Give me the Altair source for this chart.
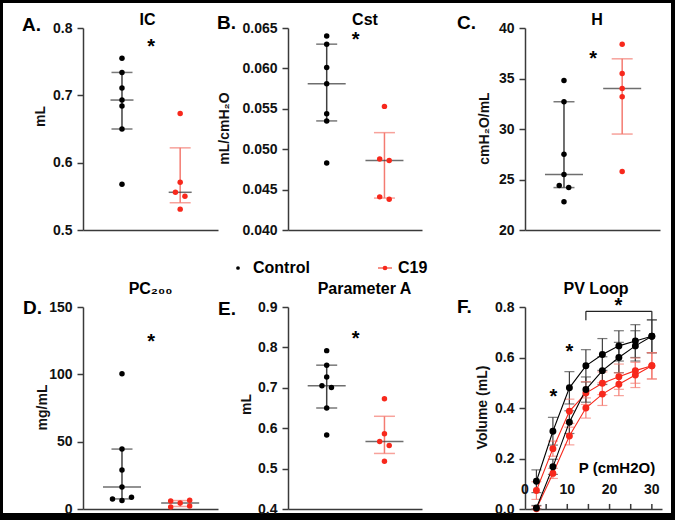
import altair as alt
import pandas as pd

FONT = "Liberation Sans"
GROUPS = ["Control", "C19"]
POINT_COLORS = ["#000000", "#f7281c"]
BAR_COLORS = ["#404040", "#f47b71"]
MEDIAN_COLOR = "#303030"

# A. IC (mL)
ic_control = [0.755, 0.734, 0.711, 0.693, 0.684, 0.650, 0.568]
ic_c19 = [0.673, 0.571, 0.556, 0.550, 0.531]
ic_ticks = [0.5, 0.6, 0.7, 0.8]
# B. Cst (mL/cmH2O)
cst_control = [0.0640, 0.0630, 0.0601, 0.0581, 0.0544, 0.0535, 0.0483]
cst_c19 = [0.0553, 0.0488, 0.0486, 0.0441, 0.0438]
cst_ticks = [0.040, 0.045, 0.050, 0.055, 0.060, 0.065]
# C. H (cmH2O/mL)
h_control = [34.8, 32.7, 27.5, 25.5, 24.4, 24.2, 22.8]
h_c19 = [38.4, 35.5, 34.0, 33.2, 25.8]
h_ticks = [20, 25, 30, 35, 40]
# D. PC200 (mg/mL)
pc_control = [100.5, 44.5, 28.9, 16.3, 8.8, 7.5, 6.3]
pc_c19 = [6.5, 6.0, 4.5, 2.3, 1.5]
pc_ticks = [0, 50, 100, 150]
# E. Parameter A (mL)
pa_control = [0.792, 0.756, 0.727, 0.705, 0.701, 0.650, 0.583]
pa_c19 = [0.673, 0.586, 0.567, 0.557, 0.518]
pa_ticks = [0.4, 0.5, 0.6, 0.7, 0.8, 0.9]
# F. PV loop
pv_pressure = [2.7, 6.6, 10.5, 14.4, 18.3, 22.2, 26.1, 30.0]
pv_ctrl_defl = [0.110, 0.308, 0.480, 0.567, 0.612, 0.646, 0.665, 0.684]
pv_ctrl_defl_sd = [0.045, 0.055, 0.064, 0.064, 0.063, 0.060, 0.065, 0.065]
pv_ctrl_infl = [0.004, 0.167, 0.344, 0.473, 0.548, 0.600, 0.646, 0.684]
pv_ctrl_infl_sd = [0.010, 0.030, 0.045, 0.050, 0.055, 0.060, 0.060, 0.065]
pv_c19_defl = [0.073, 0.239, 0.387, 0.459, 0.498, 0.524, 0.548, 0.567]
pv_c19_defl_sd = [0.035, 0.030, 0.048, 0.045, 0.045, 0.050, 0.050, 0.052]
pv_c19_infl = [0.001, 0.141, 0.289, 0.400, 0.455, 0.494, 0.531, 0.567]
pv_c19_infl_sd = [0.010, 0.020, 0.035, 0.040, 0.045, 0.045, 0.050, 0.052]
pv_y_ticks = [0.0, 0.2, 0.4, 0.6, 0.8]
pv_x_labels = [0, 10, 20, 30]
pv_x_ticks = [5, 10, 15, 20, 25, 30]

PH = 202
XMIN, XMAX = 0.33, 2.65
PT_SCALE = alt.Scale(domain=GROUPS, range=POINT_COLORS)
BAR_SCALE = alt.Scale(domain=GROUPS, range=BAR_COLORS)
XAXIS = alt.Axis(title=None, labels=False, ticks=False, grid=False, domain=True)


def gp_quantile(vals, p):
    s = sorted(vals)
    n = len(s)
    r = (n + 1) * p
    lo = int(r)
    frac = r - lo
    if lo < 1:
        return s[0]
    if lo >= n:
        return s[-1]
    return s[lo - 1] + frac * (s[lo] - s[lo - 1])


def dodge(vals, px_per_unit, thresh=5.0, step=9.5):
    order = sorted(range(len(vals)), key=lambda i: -vals[i])
    offs = [0.0] * len(vals)
    chains, cur = [], [order[0]]
    for i in order[1:]:
        if (vals[cur[-1]] - vals[i]) * px_per_unit < thresh:
            cur.append(i)
        else:
            chains.append(cur)
            cur = [i]
    chains.append(cur)
    for ch in chains:
        if len(ch) == 2:
            offs[ch[0]] = -0.5 * step
            offs[ch[1]] = 0.5 * step
        elif len(ch) > 2:
            for k in range(0, len(ch), 3):
                grp = ch[k:k + 3]
                pos = {1: [0], 2: [1, -1], 3: [1, -1, 0]}[len(grp)]
                for idx, p in zip(grp, pos):
                    offs[idx] = p * step
    return offs


def letter_layer(letter, lx, ly):
    return alt.Chart(pd.DataFrame({"l": [letter]})).mark_text(
        text=letter, align="left", baseline="middle", fontSize=19,
        fontWeight="bold", font=FONT, color="#000"
    ).encode(x=alt.value(lx), y=alt.value(ly))


def title_layer(title, tx, ty):
    return alt.Chart(pd.DataFrame({"t": [title]})).mark_text(
        text=title, align="center", baseline="alphabetic", fontSize=16,
        fontWeight="bold", font=FONT, color="#000"
    ).encode(x=alt.value(tx), y=alt.value(ty))


def dot_panel(title, ctrl, c19, dom, ticks, fmt, ytitle, ytx, yty,
              letter, lx, ly, star_y, tdx, tty, med_size, width, extra=None):
    px_y = PH / (dom[1] - dom[0])
    px_x = width / (XMAX - XMIN)
    xsc = alt.Scale(domain=[XMIN, XMAX], nice=False, zero=False)
    ysc = alt.Scale(domain=dom, nice=False, zero=False)
    yax = alt.Axis(title=ytitle, values=ticks, format=fmt, grid=False,
                   titleX=ytx, titleY=yty, titleBaseline="middle",
                   titleAlign="center", titleAngle=270)
    rows, stats = [], []
    for gi, (g, vals) in enumerate(zip(GROUPS, [ctrl, c19])):
        offs = dodge(vals, px_y)
        for v, o in zip(vals, offs):
            rows.append({"group": g, "value": v, "x": gi + 1 + o / px_x})
        stats.append({"group": g, "pos": gi + 1,
                      "median": gp_quantile(vals, 0.5),
                      "q1": gp_quantile(vals, 0.25),
                      "q3": gp_quantile(vals, 0.75)})
    pts = pd.DataFrame(rows)
    st = pd.DataFrame(stats)
    caps = st.melt(id_vars=["group", "pos"], value_vars=["q1", "q3"],
                   value_name="cap")

    bars = alt.Chart(st).mark_rule(strokeWidth=1.5).encode(
        x=alt.X("pos:Q", scale=xsc, axis=XAXIS),
        y=alt.Y("q1:Q", scale=ysc, axis=yax),
        y2="q3:Q",
        stroke=alt.Stroke("group:N", scale=BAR_SCALE, legend=None),
    )
    capl = alt.Chart(caps).mark_tick(orient="horizontal", size=21,
                                     thickness=1.5, filled=True).encode(
        x=alt.X("pos:Q", scale=xsc, axis=XAXIS),
        y=alt.Y("cap:Q", scale=ysc, axis=yax),
        fill=alt.Fill("group:N", scale=BAR_SCALE, legend=None),
    )
    med = alt.Chart(st).mark_tick(orient="horizontal", size=med_size,
                                  thickness=1.5, color=MEDIAN_COLOR).encode(
        x=alt.X("pos:Q", scale=xsc, axis=XAXIS),
        y=alt.Y("median:Q", scale=ysc, axis=yax),
    )
    points = alt.Chart(pts).mark_circle(size=30, opacity=1).encode(
        x=alt.X("x:Q", scale=xsc, axis=XAXIS),
        y=alt.Y("value:Q", scale=ysc, axis=yax),
        color=alt.Color("group:N", scale=PT_SCALE, legend=None),
    )
    star = alt.Chart(pd.DataFrame({"s": ["*"]})).mark_text(
        text="*", fontSize=20, fontWeight="bold", font=FONT,
        baseline="alphabetic", dy=11, color="#000"
    ).encode(
        x=alt.XDatum(1.5, scale=xsc, axis=XAXIS),
        y=alt.YDatum(star_y, scale=ysc, axis=yax),
    )
    layers = [bars, capl, med, points, star, letter_layer(letter, lx, ly),
              title_layer(title, width / 2 + tdx, tty)]
    if extra:
        layers += extra
    return alt.layer(*layers).properties(width=width, height=PH)


def spacer(w):
    return alt.Chart(pd.DataFrame({"s": [0]})).mark_point(opacity=0).encode(
        x=alt.value(0), y=alt.value(0)
    ).properties(width=w, height=PH)


# frame around the figure (decoration, pixel offsets from panel A origin)
def frame_layers():
    out = []
    for x1, x2, y1, y2 in [(-83, 592, -28, -25), (-83, 592, 485, 492),
                           (-83, -80, -28, 492), (588, 592, -28, 492)]:
        out.append(alt.Chart(pd.DataFrame({"f": [0]})).mark_rect(color="#000").encode(
            x=alt.value(x1), x2=alt.value(x2), y=alt.value(y1), y2=alt.value(y2)))
    return out


def legend_layers():
    d = pd.DataFrame({"f": [0]})
    return [
        alt.Chart(d).mark_circle(size=14, color=POINT_COLORS[0], opacity=1).encode(
            x=alt.value(-50), y=alt.value(-39)),
        alt.Chart(d).mark_text(text="Control", align="left", baseline="middle",
                               fontSize=16, fontWeight="bold", font=FONT,
                               color="#000").encode(x=alt.value(-35), y=alt.value(-39)),
        alt.Chart(d).mark_rule(color="#f04a3a", strokeWidth=1.2).encode(
            x=alt.value(90), x2=alt.value(104), y=alt.value(-39)),
        alt.Chart(d).mark_circle(size=22, color=POINT_COLORS[1], opacity=1).encode(
            x=alt.value(97), y=alt.value(-39)),
        alt.Chart(d).mark_text(text="C19", align="left", baseline="middle",
                               fontSize=16, fontWeight="bold", font=FONT,
                               color="#000").encode(x=alt.value(110), y=alt.value(-39)),
    ]


A = dot_panel("IC", ic_control, ic_c19, [0.5, 0.8], ic_ticks, ".1f", "mL",
              -43, 88, "A.", -61, -3.5, 0.779, -3, -3, 23, 135,
              extra=frame_layers())
B = dot_panel("Cst", cst_control, cst_c19, [0.040, 0.065], cst_ticks, ".3f",
              "mL/cmH₂O", -64, 100, "B.", -71, -5.5, 0.0641, 10, -3, 38, 134)
C = dot_panel("H", h_control, h_c19, [20, 40], h_ticks, "d", "cmH₂O/mL",
              -41, 100, "C.", -68, -5.5, 37.4, 4.5, -3, 38, 135)
D = dot_panel("PC₂₀₀", pc_control, pc_c19, [0, 150], pc_ticks, "d", "mg/mL",
              -41, 100, "D.", -60, 1, 127.4, 0, -13, 38, 135)
E = dot_panel("Parameter A", pa_control, pa_c19, [0.4, 0.9], pa_ticks, ".1f",
              "mL", -42, 97, "E.", -70, 2, 0.833, 9.5, -13, 38, 134,
              extra=legend_layers())

# ---- F. PV loop ----
FW = 137
pv_rows = []
for g, curve, vals, sds in [("C19", "c19_defl", pv_c19_defl, pv_c19_defl_sd),
                            ("C19", "c19_infl", pv_c19_infl, pv_c19_infl_sd),
                            ("Control", "ctrl_infl", pv_ctrl_infl, pv_ctrl_infl_sd),
                            ("Control", "ctrl_defl", pv_ctrl_defl, pv_ctrl_defl_sd)]:
    for p, v, s in zip(pv_pressure, vals, sds):
        pv_rows.append({"group": g, "curve": curve, "P": p, "V": v,
                        "lo": max(v - s, 0), "hi": v + s})
pv = pd.DataFrame(pv_rows)
pv_caps = pv.melt(id_vars=["group", "curve", "P"], value_vars=["lo", "hi"],
                  value_name="cap")

fx = alt.Scale(domain=[0, 32.4], nice=False, zero=False)
fy = alt.Scale(domain=[0, 0.8], nice=False, zero=False)
fyax = alt.Axis(title="Volume (mL)", values=pv_y_ticks, format=".1f", grid=False,
                titleX=-42.5, titleY=100, titleBaseline="middle",
                titleAlign="center", titleAngle=270)


def FX(f):
    return alt.X(f, type="quantitative", scale=fx, axis=XAXIS)


def FY(f):
    return alt.Y(f, type="quantitative", scale=fy, axis=fyax)


f_bars = alt.Chart(pv).mark_rule(strokeWidth=1.2).encode(
    x=FX("P"), y=FY("lo"), y2="hi",
    stroke=alt.Stroke("group:N", scale=BAR_SCALE, legend=None))
f_caps = alt.Chart(pv_caps).mark_tick(orient="horizontal", size=10, thickness=1.2,
                                      filled=True).encode(
    x=FX("P"), y=FY("cap"), fill=alt.Fill("group:N", scale=BAR_SCALE, legend=None))
f_lines = alt.Chart(pv).mark_line(strokeWidth=1.1).encode(
    x=FX("P"), y=FY("V"), detail="curve:N", order="P:Q",
    color=alt.Color("group:N", scale=PT_SCALE, legend=None))
f_points = alt.Chart(pv).mark_circle(size=48, opacity=1).encode(
    x=FX("P"), y=FY("V"), color=alt.Color("group:N", scale=PT_SCALE, legend=None))

BR_Y, BR_DROP = 0.783, 0.748
bracket = pd.DataFrame({
    "x": [pv_pressure[3], pv_pressure[3], pv_pressure[-1]],
    "x2": [pv_pressure[-1], pv_pressure[3], pv_pressure[-1]],
    "y": [BR_Y, BR_DROP, BR_DROP],
    "y2": [BR_Y, BR_Y, BR_Y],
})
f_bracket = alt.Chart(bracket).mark_rule(color="#222", strokeWidth=1.2).encode(
    x=FX("x"), x2="x2", y=FY("y"), y2="y2")
stars = pd.DataFrame({"x": [6.7, 10.5, 22.1], "y": [0.463, 0.642, 0.824]})
f_stars = alt.Chart(stars).mark_text(text="*", fontSize=20, fontWeight="bold",
                                     font=FONT, baseline="alphabetic", dy=11,
                                     color="#000").encode(x=FX("x"), y=FY("y"))
f_xlab = alt.Chart(pd.DataFrame({"t": pv_x_labels})).mark_text(
    fontSize=14, fontWeight="bold", font=FONT, baseline="middle", color="#111"
).encode(x=FX("t"), y=alt.YDatum(0.075, scale=fy, axis=fyax), text="t:Q")
f_xticks = alt.Chart(pd.DataFrame({"t": pv_x_ticks})).mark_rule(
    color="#3a3a3a", strokeWidth=1.5
).encode(x=FX("t"), y=alt.YDatum(0, scale=fy, axis=fyax), y2=alt.Y2Datum(0.02))
f_ptext = alt.Chart(pd.DataFrame({"s": ["P (cmH2O)"]})).mark_text(
    fontSize=15, fontWeight="bold", font=FONT, baseline="middle", color="#000"
).encode(x=alt.XDatum(21.75, scale=fx, axis=XAXIS),
         y=alt.YDatum(0.162, scale=fy, axis=fyax), text="s:N")

F = alt.layer(f_bars, f_caps, f_lines, f_points, f_bracket, f_stars, f_xticks,
              f_xlab, f_ptext, letter_layer("F.", -68, 0),
              title_layer("PV Loop", FW / 2 + 2.5, -13)).properties(
    width=FW, height=PH)

chart = alt.concat(
    A, spacer(70), B, spacer(103), C,
    D, spacer(70), E, spacer(103), F,
    columns=5, spacing={"row": 77, "column": 0}, bounds="flush", align="each",
).properties(
    autosize=alt.AutoSizeParams(type="none"),
    padding={"left": 83, "top": 28, "right": 592, "bottom": 492},
    background="white",
).configure(font=FONT).configure_view(strokeWidth=0).configure_axis(
    labelFont=FONT, labelFontSize=14, labelFontWeight="bold", labelColor="#111",
    titleFont=FONT, titleFontSize=14, titleFontWeight="bold", titleColor="#111",
    domainColor="#3a3a3a", domainWidth=1.5, tickColor="#3a3a3a", tickWidth=1.5,
    tickSize=6, labelPadding=5, grid=False,
)

chart.save("out.html", embed_options={"renderer": "svg", "actions": False})
